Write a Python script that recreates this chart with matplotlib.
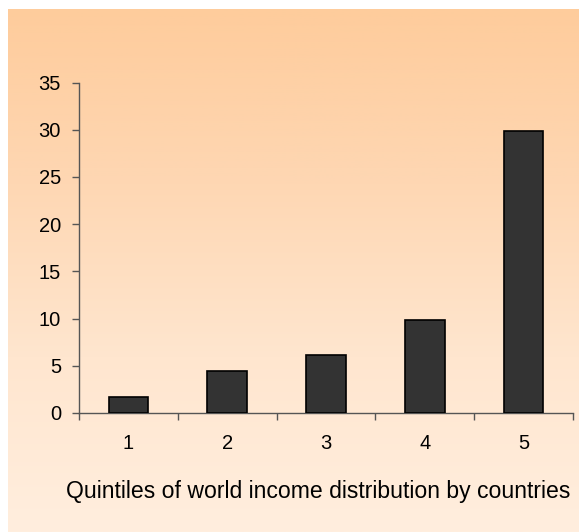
import numpy as np
import matplotlib.pyplot as plt
from matplotlib.colors import LinearSegmentedColormap

# Share of world income by quintile of countries
quintiles = ['1', '2', '3', '4', '5']
share = [1.7, 4.4, 6.1, 9.9, 29.9]

plt.rcParams['font.family'] = ['Liberation Sans', 'DejaVu Sans']

fig = plt.figure(figsize=(5.79, 5.32), dpi=100, facecolor='white')

# Chart area background: orange fading to cream towards the bottom
bg = fig.add_axes([8 / 579, 0, 1 - 8 / 579, 523 / 532])
bg.set_axis_off()
grad = LinearSegmentedColormap.from_list('peach', ['#fecc9c', '#fed7b3', '#ffe6cf', '#ffeede'])
bg.imshow(np.linspace(0, 1, 256).reshape(-1, 1), aspect='auto', cmap=grad,
          extent=[0, 1, 0, 1], origin='upper')

ax = fig.add_axes([79 / 579, 119 / 532, 494 / 579, 330.5 / 532])
ax.patch.set_alpha(0)

x = np.arange(1, len(quintiles) + 1)
ax.bar(x, share, width=0.4, color='#333333', edgecolor='black', linewidth=1.2, zorder=3)

ax.set_xlim(0.5, 5.5)
ax.set_ylim(0, 35)
ax.set_yticks(range(0, 36, 5))

# category boundaries get the tick marks, centres get the labels
ax.set_xticks(np.arange(0.5, 5.6, 1))
ax.set_xticklabels([])
ax.set_xticks(x, minor=True)
ax.set_xticklabels(quintiles, minor=True)
ax.tick_params(axis='x', which='major', direction='out', length=5, width=1, color='#555555')
ax.tick_params(axis='x', which='minor', length=0, pad=15, labelsize=14.5)
ax.tick_params(axis='y', direction='out', length=5, width=1, color='#555555', pad=8, labelsize=14.5)

for side in ['top', 'right']:
    ax.spines[side].set_visible(False)
for side in ['left', 'bottom']:
    ax.spines[side].set_color('#555555')
    ax.spines[side].set_linewidth(1)

ax.set_xlabel('Quintiles of world income distribution by countries', fontsize=16.6)
ax.xaxis.set_label_coords(0.485, -0.202)

fig.savefig('out.png', dpi=100)
